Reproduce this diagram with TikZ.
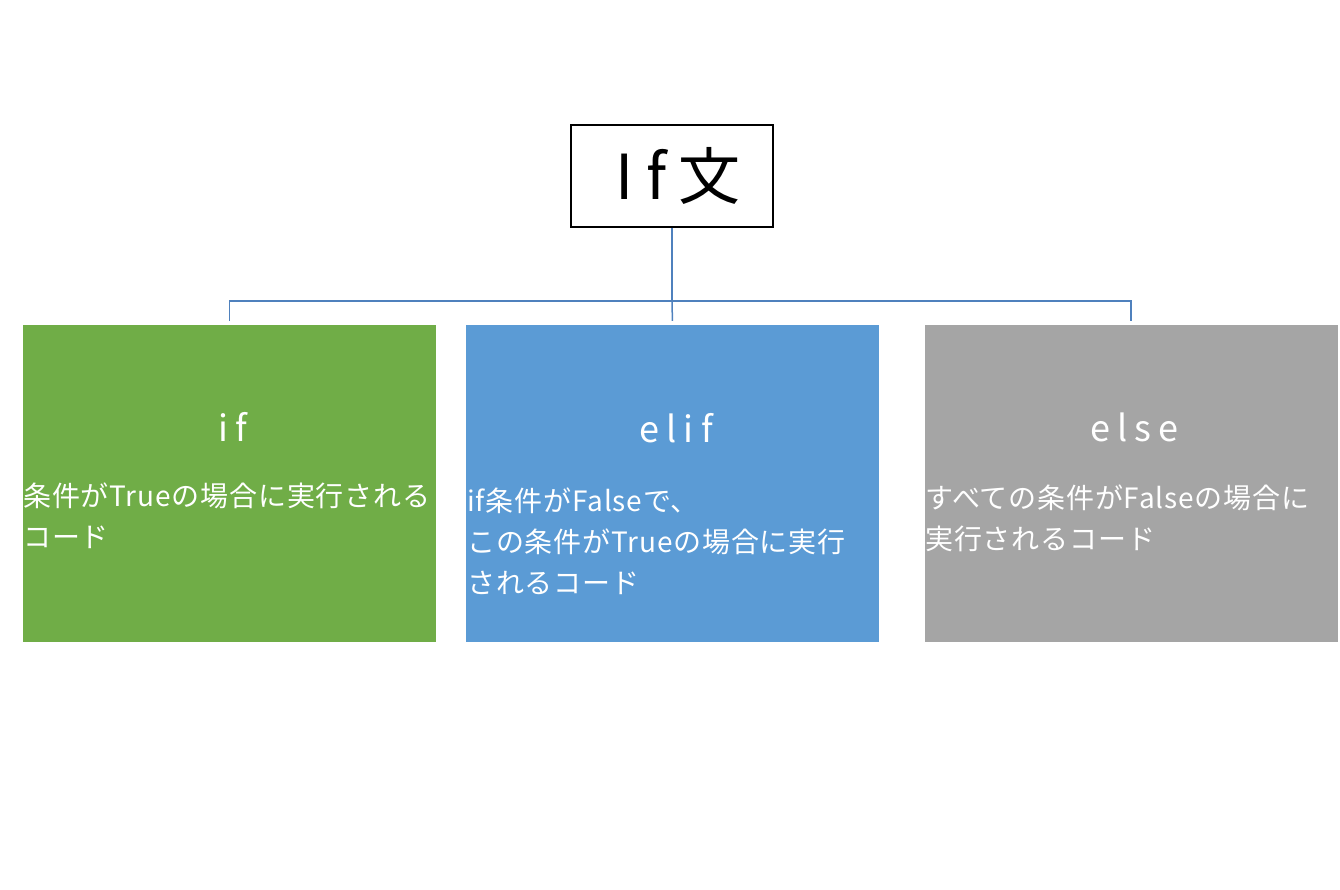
\documentclass[tikz,border=0pt]{standalone}
\usepackage{fontspec}
\newfontfamily\jpfont[LetterSpace=3]{Noto Sans CJK JP}
\newfontfamily\jpwide[LetterSpace=20]{Noto Sans CJK JP}
\usetikzlibrary{positioning}
\definecolor{ifgreen}{HTML}{70AD47}
\definecolor{elifblue}{HTML}{5B9BD5}
\definecolor{elsegray}{HTML}{A5A5A5}
\definecolor{linkblue}{HTML}{4F81BD}
% letter spacing also pads after the last letter: pad before it too
\newcommand{\wide}[1]{\kern0.2em#1}

\begin{document}
\begin{tikzpicture}[x=1pt,y=-1pt,
					branch/.style={rectangle,minimum width=413pt,minimum height=317pt,inner sep=0pt},
					head/.style={text=white,font=\jpwide\fontsize{36}{40}\selectfont},
					body/.style={text=white,align=left,inner sep=0pt,anchor=north west,
						font=\jpfont\fontsize{28}{41}\selectfont},
					link/.style={draw=linkblue,line width=1.5pt}]
	\useasboundingbox (0,0) rectangle (1340,889);
	\node[draw,line width=1.5pt,minimum width=202pt,minimum height=102pt,
		font=\jpwide\fontsize{62}{66}\selectfont] (top) at (672,176) {\wide{If文}};
	\node[branch,fill=ifgreen] (ifbox) at (229.5,483.5) {};
	\node[branch,fill=elifblue] (elifbox) at (672.5,483.5) {};
	\node[branch,fill=elsegray] (elsebox) at (1131,483.5) {};
	% headings
	\node[head] (ifhead) at (229.5,427) {\wide{if}};
	\node[head] (elifhead) at (672.5,428) {\wide{elif}};
	\node[head] (elsehead) at (1131,427) {\wide{else}};
	% descriptions
	\node[body] (iftext) at (23,483) {条件がTrueの場合に実行される\\コード};
	\node[body] (eliftext) at (467,488) {if条件がFalseで、\\この条件がTrueの場合に実行\\されるコード};
	\node[body] (elsetext) at (925,485) {すべての条件がFalseの場合に\\実行されるコード};
	% connectors
	\coordinate (bus) at (672,301);
	\draw[link] (top.south) -- (bus);
	\draw[link,shorten >=4pt] (bus) -| (ifbox.north);
	\draw[link,shorten >=4pt] (bus) -- (elifbox.north);
	\draw[link,shorten >=4pt] (bus) -| (elsebox.north);
\end{tikzpicture}
\end{document}
